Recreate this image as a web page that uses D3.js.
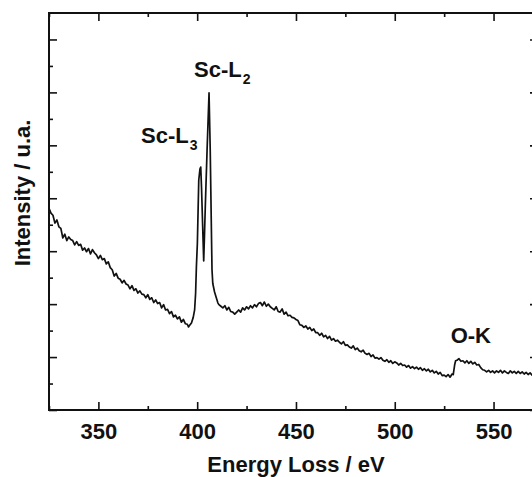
<!DOCTYPE html>
<html>
<head>
<meta charset="utf-8">
<script src="https://cdn.jsdelivr.net/npm/d3@7"></script>
<style>
  html, body { margin: 0; padding: 0; background: #fff; }
  svg { display: block; font-family: "Liberation Sans", Arial, sans-serif; font-weight: bold; }
  .axis path, .axis line { stroke: #111; }
  .axis text { fill: #111; font-size: 22px; font-weight: bold; }
</style>
</head>
<body>
<svg id="chart" width="532" height="477"></svg>
<script>
// EELS spectrum, Sc-L2,3 and O-K edges. [energy loss eV, intensity a.u.]
const preEdge = [
  [325, 7.62], [326, 7.44], [327, 7.36], [328, 7.06], [329, 7.18], [330, 6.92], [331, 6.86],
  [332, 6.50], [333, 6.64], [334, 6.40], [335, 6.54], [336, 6.44], [337, 6.40], [338, 6.24],
  [339, 6.36], [340, 6.22], [341, 6.26], [342, 6.04], [343, 6.12], [344, 5.98], [345, 6.10],
  [346, 5.90], [347, 6.06], [348, 5.94], [349, 5.86], [350, 5.72], [351, 5.84], [352, 5.68],
  [353, 5.72], [354, 5.52], [355, 5.60], [356, 5.38], [357, 5.30], [358, 5.06], [359, 5.16],
  [360, 4.98], [361, 4.94], [362, 4.80], [363, 4.90], [364, 4.76], [365, 4.72], [366, 4.58],
  [367, 4.70], [368, 4.52], [369, 4.58], [370, 4.42], [371, 4.50], [372, 4.38], [373, 4.36],
  [374, 4.24], [375, 4.36], [376, 4.18], [377, 4.24], [378, 4.06], [379, 4.16], [380, 4.02],
  [381, 4.06], [382, 3.86], [383, 3.98], [384, 3.78], [385, 3.80], [386, 3.64], [387, 3.72],
  [388, 3.52], [389, 3.58], [390, 3.44], [391, 3.52], [392, 3.32], [393, 3.42], [394, 3.26],
  [395, 3.24], [395.6, 3.14]
];
const scEdge = [
  [396.2, 3.20], [397.1, 3.29], [398, 3.50], [398.7, 3.78], [399.2, 4.40], [399.6, 5.40],
  [400.1, 6.31], [400.8, 8.69], [401.4, 9.10], [401.8, 9.18], [402.2, 8.40], [403.3, 5.63],
  [403.7, 6.60], [404.1, 7.67], [405.0, 9.80], [406.0, 11.98], [406.6, 9.82], [407.5, 5.30],
  [407.9, 4.78], [408.8, 4.46], [409.6, 4.26], [410.5, 4.04]
];
const postEdge = [
  [411, 3.98], [412, 3.92], [413, 3.86], [414, 3.94], [415, 3.78], [416, 3.88], [417, 3.72],
  [418, 3.70], [419, 3.62], [420, 3.70], [421, 3.78], [422, 3.70], [423, 3.86], [424, 3.78],
  [425, 3.90], [426, 3.82], [427, 3.94], [428, 3.86], [429, 3.98], [430, 3.90], [431, 4.02],
  [432, 4.06], [433, 3.94], [434, 4.08], [435, 3.92], [436, 4.00], [437, 3.90], [438, 3.84],
  [439, 3.78], [440, 3.90], [441, 3.72], [442, 3.70], [443, 3.82], [444, 3.62], [445, 3.70],
  [446, 3.56], [447, 3.58], [448, 3.50], [449, 3.48], [450, 3.42], [451, 3.38], [452, 3.22],
  [453, 3.20], [454, 3.12], [455, 3.18], [456, 3.06], [457, 3.12], [458, 3.00], [459, 3.06],
  [460, 2.92], [461, 2.92], [462, 2.82], [463, 2.90], [464, 2.76], [465, 2.82], [466, 2.70],
  [467, 2.78], [468, 2.64], [469, 2.70], [470, 2.60], [471, 2.64], [472, 2.56], [473, 2.50],
  [474, 2.58], [475, 2.44], [476, 2.46], [477, 2.38], [478, 2.34], [479, 2.42], [480, 2.28],
  [481, 2.34], [482, 2.24], [483, 2.20], [484, 2.26], [485, 2.14], [486, 2.10], [487, 2.14],
  [488, 2.02], [489, 2.08], [490, 1.96], [491, 1.98], [492, 1.92], [493, 1.98], [494, 1.88],
  [495, 1.84], [496, 1.90], [497, 1.80], [498, 1.86], [499, 1.76], [500, 1.82], [501, 1.78],
  [502, 1.70], [503, 1.76], [504, 1.68], [505, 1.70], [506, 1.62], [507, 1.68], [508, 1.58],
  [509, 1.64], [510, 1.56], [511, 1.62], [512, 1.54], [513, 1.60], [514, 1.50], [515, 1.56],
  [516, 1.48], [517, 1.54], [518, 1.44], [519, 1.50], [520, 1.40], [521, 1.46], [522, 1.36],
  [523, 1.42], [524, 1.30], [525, 1.32], [526, 1.26], [527, 1.34], [528, 1.24], [529, 1.36],
  [529.6, 1.34]
];
const oxygenEdge = [
  [530.3, 1.70], [530.8, 1.86], [531.5, 1.88], [532.5, 1.94], [533.5, 1.84], [534.5, 1.86],
  [535.5, 1.78], [536.5, 1.86], [537.5, 1.76], [538.5, 1.84], [539.5, 1.74], [540.5, 1.80],
  [541.5, 1.70], [542.5, 1.72], [543.5, 1.60], [544.5, 1.52], [545.5, 1.50], [546.5, 1.44],
  [547.5, 1.50], [548.5, 1.42], [549.5, 1.48], [550.5, 1.40], [551.5, 1.48], [552.5, 1.42],
  [553.5, 1.50], [554.5, 1.40], [555.5, 1.48], [556.5, 1.42], [557.5, 1.38], [558.5, 1.48],
  [559.5, 1.40], [560.5, 1.46], [561.5, 1.38], [562.5, 1.46], [563.5, 1.38], [564.5, 1.44],
  [565.5, 1.36], [566.5, 1.42], [567.5, 1.34], [568.5, 1.40], [569.5, 1.32], [570.5, 1.38],
  [571.5, 1.32], [572.5, 1.36]
];

const xMajor = [350, 400, 450, 500, 550];
const xMinor = [325, 375, 425, 475, 525];
const yMajor = [0, 2, 4, 6, 8, 10, 12, 14];
const yMinor = [1, 3, 5, 7, 9, 11, 13];

// edge labels: [main text, subscript, energy at text start, intensity at baseline]
const edgeLabels = [
  ['Sc-L', '3', 371.6, 10.09],
  ['Sc-L', '2', 398.4, 12.58],
  ['O-K', '', 528.3, 2.53]
];

(function () {
  const svg = d3.select('#chart');
  const m = { left: 49, right: 538, top: 13, bottom: 410 };

  const x = d3.scaleLinear().domain([325, 572.5]).range([m.left, m.right]);
  const y = d3.scaleLinear().domain([0, 15]).range([m.bottom, m.top]);

  // ticks, all pointing inward
  function ticks(axisFn, scale, vals, size, tx, ty, labels) {
    const g = svg.append('g').attr('class', 'axis').attr('transform', `translate(${tx},${ty})`)
      .call(axisFn(scale).tickValues(vals).tickSizeInner(-size).tickSizeOuter(0)
        .tickFormat(labels ? d3.format('d') : ''));
    g.select('.domain').remove();
    g.selectAll('line').attr('stroke-width', 1.6);
    return g;
  }
  const xb = ticks(d3.axisBottom, x, xMajor, 8, 0, m.bottom, true);
  xb.selectAll('text').attr('y', 13).attr('dy', '0.71em');
  ticks(d3.axisBottom, x, xMinor, 4, 0, m.bottom, false);
  ticks(d3.axisTop, x, xMajor, 8, 0, m.top, false);
  ticks(d3.axisTop, x, xMinor, 4, 0, m.top, false);
  ticks(d3.axisLeft, y, yMajor, 8, m.left, 0, false);
  ticks(d3.axisLeft, y, yMinor, 4, m.left, 0, false);
  ticks(d3.axisRight, y, yMajor, 8, m.right, 0, false);
  ticks(d3.axisRight, y, yMinor, 4, m.right, 0, false);

  svg.append('rect')
    .attr('x', m.left).attr('y', m.top).attr('width', m.right - m.left).attr('height', m.bottom - m.top)
    .attr('fill', 'none').attr('stroke', '#111').attr('stroke-width', 2);

  const spectrum = preEdge.concat(scEdge, postEdge, oxygenEdge);
  const line = d3.line().x((d) => x(d[0])).y((d) => y(d[1]));
  svg.append('path')
    .datum(spectrum)
    .attr('d', line)
    .attr('fill', 'none')
    .attr('stroke', '#111')
    .attr('stroke-width', 1.7)
    .attr('stroke-linejoin', 'round');

  // edge labels with subscripts
  edgeLabels.forEach(([main, sub, ex, ey]) => {
    const t = svg.append('text')
      .attr('x', x(ex)).attr('y', y(ey))
      .attr('font-size', 22).attr('fill', '#111');
    t.append('tspan').text(main);
    if (sub) t.append('tspan').attr('font-size', 14).attr('dx', 1).attr('dy', 7).text(sub);
  });

  // axis titles
  svg.append('text')
    .attr('x', 296).attr('y', 472)
    .attr('text-anchor', 'middle').attr('font-size', 22).attr('fill', '#111')
    .text('Energy Loss / eV');
  svg.append('text')
    .attr('transform', 'translate(30,193) rotate(-90)')
    .attr('text-anchor', 'middle').attr('font-size', 22).attr('fill', '#111')
    .text('Intensity / u.a.');
})();
</script>
</body>
</html>
